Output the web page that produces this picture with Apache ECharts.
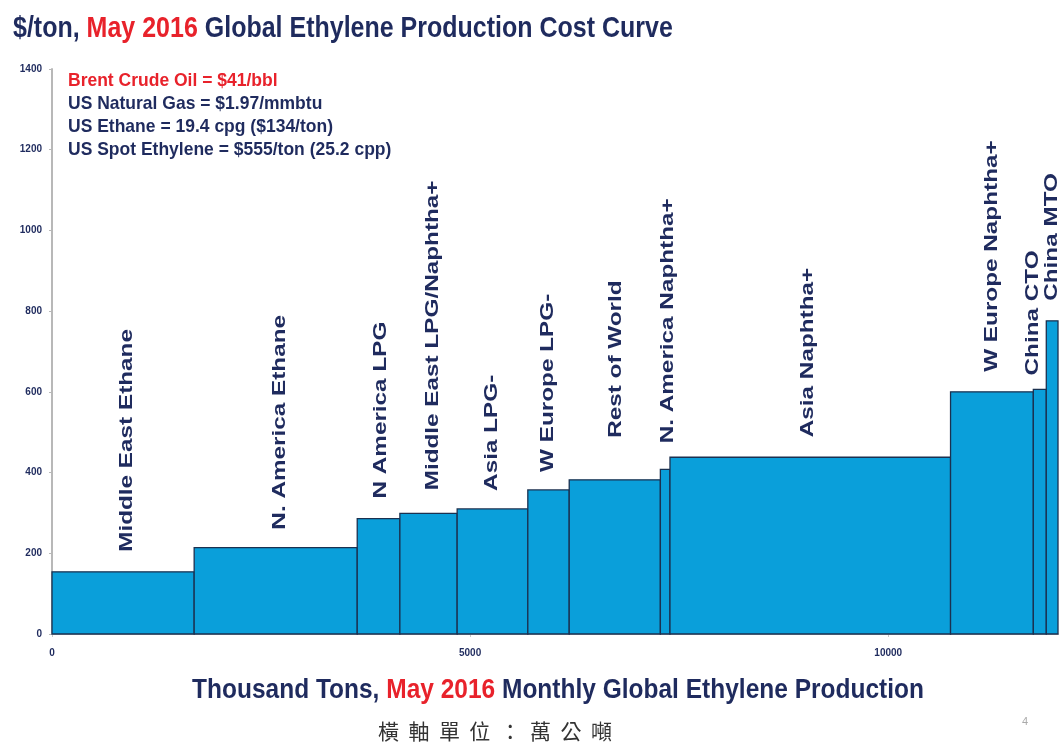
<!DOCTYPE html>
<html>
<head>
<meta charset="utf-8">
<script src="https://cdn.jsdelivr.net/npm/echarts@6/dist/echarts.min.js"></script>
<style>
  html, body { margin: 0; padding: 0; background: #fff; }
  #chart { width: 1059px; height: 744px; }
</style>
</head>
<body>
<div id="chart"></div>
<script>
// regions, left to right on the cost curve
const regions = ['Middle East Ethane', 'N. America Ethane', 'N America LPG', 'Middle East LPG/Naphtha+',
  'Asia LPG-', 'W Europe LPG-', 'Rest of World', 'N. America Naphtha+', 'Asia Naphtha+',
  'W Europe Naphtha+', 'China CTO', 'China MTO'];
// monthly production, thousand tons (bar width)
const production = [1700, 1950, 510, 685, 845, 495, 1090, 115, 3355, 990, 155, 140];
// cash cost, $/ton (bar height)
const cost = [154, 214, 286, 299, 310, 357, 382, 408, 438, 600, 606, 776];
const yTicks = [0, 200, 400, 600, 800, 1000, 1200, 1400];
const notes = ['Brent Crude Oil = $41/bbl', 'US Natural Gas = $1.97/mmbtu',
  'US Ethane = 19.4 cpg ($134/ton)', 'US Spot Ethylene = $555/ton (25.2 cpp)'];

// small label nudges in px [dx, gap above bar]
const labelNudge = [[4, 20], [4, 18], [2, 20], [5, 23], [0, 18], [0, 18], [1, 42], [3, 26], [-2, 20], [0, 20], [-7, 14], [0, 20]];

const NAVY = '#1f2b5e';
const RED = '#e8222b';
const BAR = '#0a9fda';
const FONT = '"Liberation Sans", Arial, sans-serif';

const chart = echarts.init(document.getElementById('chart'));

let acc = 0;
const barData = production.map((w, i) => {
  const item = [acc, acc + w, cost[i], i];
  acc += w;
  return item;
});
const xMax = acc;

function renderBar(params, api) {
  const x0 = api.value(0), x1 = api.value(1), v = api.value(2), i = api.value(3);
  const pTop = api.coord([x0, v]);
  const pBot = api.coord([x1, 0]);
  const nudge = labelNudge[i];
  return {
    type: 'group',
    children: [
      {
        type: 'rect',
        shape: { x: pTop[0], y: pTop[1], width: pBot[0] - pTop[0], height: pBot[1] - pTop[1] },
        style: { fill: BAR, stroke: '#1b3150', lineWidth: 1.3 }
      },
      {
        type: 'text',
        x: (pTop[0] + pBot[0]) / 2 + nudge[0],
        y: pTop[1] - nudge[1],
        rotation: Math.PI / 2,
        scaleX: 1.35,
        style: {
          text: regions[i],
          fill: NAVY,
          font: 'bold 18px ' + FONT,
          align: 'left',
          verticalAlign: 'middle'
        }
      }
    ]
  };
}

const option = {
  animation: false,
  grid: { left: 52, right: 1, top: 69, bottom: 110 },
  xAxis: {
    type: 'value',
    min: 0,
    max: xMax,
    interval: 5000,
    splitLine: { show: false },
    axisLine: { show: true, lineStyle: { color: '#c8c8c8', width: 2 } },
    axisTick: { show: true, length: 3, lineStyle: { color: '#c8c8c8' } },
    axisLabel: {
      showMaxLabel: false,
      margin: 14,
      color: NAVY,
      fontSize: 10,
      fontWeight: 'bold',
      fontFamily: FONT,
      formatter: v => String(v)
    }
  },
  yAxis: {
    type: 'value',
    min: yTicks[0],
    max: yTicks[yTicks.length - 1],
    interval: 200,
    splitLine: { show: false },
    axisLine: { show: true, lineStyle: { color: '#b8b8b8', width: 2 } },
    axisTick: { show: true, length: 3, lineStyle: { color: '#b8b8b8' } },
    axisLabel: {
      margin: 10,
      color: NAVY,
      fontSize: 10,
      fontWeight: 'bold',
      fontFamily: FONT,
      formatter: v => String(v)
    }
  },
  series: [{
    type: 'custom',
    renderItem: renderBar,
    data: barData,
    encode: { x: [0, 1], y: 2 },
    clip: false
  }],
  graphic: [
    {
      type: 'text', x: 13, y: 29, scaleY: 1.15,
      style: {
        text: '{a|$/ton, }{b|May 2016}{a| Global Ethylene Production Cost Curve}',
        verticalAlign: 'middle',
        rich: {
          a: { fill: NAVY, fontSize: 25, fontWeight: 'bold', fontFamily: FONT },
          b: { fill: RED, fontSize: 25, fontWeight: 'bold', fontFamily: FONT }
        }
      }
    },
    ...notes.map((t, i) => ({
      type: 'text', x: 68, y: 81 + i * 23, scaleY: 1.05,
      style: {
        text: t,
        fill: i === 0 ? RED : NAVY,
        font: 'bold 17.5px ' + FONT,
        verticalAlign: 'middle'
      }
    })),
    {
      type: 'text', x: 558, y: 690, scaleY: 1.15,
      style: {
        text: '{a|Thousand Tons, }{b|May 2016}{a| Monthly Global Ethylene Production}',
        align: 'center',
        verticalAlign: 'middle',
        rich: {
          a: { fill: NAVY, fontSize: 24.5, fontWeight: 'bold', fontFamily: FONT },
          b: { fill: RED, fontSize: 24.5, fontWeight: 'bold', fontFamily: FONT }
        }
      }
    },
    {
      type: 'text', x: 495, y: 731,
      style: {
        text: '橫  軸  單  位  ：  萬  公  噸',
        fill: '#333',
        font: '21px "Noto Sans CJK TC", sans-serif',
        align: 'center',
        verticalAlign: 'middle'
      }
    },
    {
      type: 'text', x: 1025, y: 722,
      style: { text: '4', fill: '#aaa', font: '11px ' + FONT, align: 'center', verticalAlign: 'middle' }
    }
  ]
};

chart.setOption(option);
window.addEventListener('resize', function () {
  chart.resize();
});
</script>
</body>
</html>
